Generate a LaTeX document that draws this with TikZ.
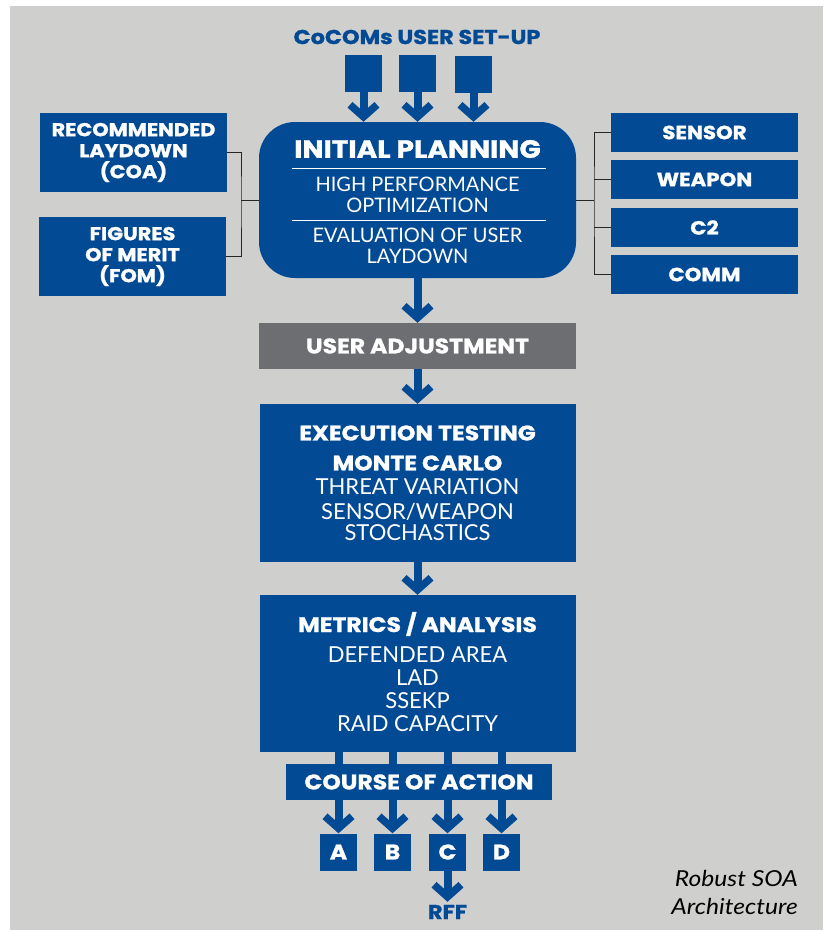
\documentclass[tikz,border=0pt]{standalone}
\usepackage{fontspec}
\setmainfont{Lato}
\newfontfamily\heavyfont{Poppins}[FakeStretch=1.12, FakeBold=1.2]
\newfontfamily\capfont{Lato}[FakeStretch=1.12]
\usetikzlibrary{arrows.meta}

\definecolor{socblue}{HTML}{034A94}
\definecolor{panel}{HTML}{CFCFCD}
\definecolor{adjgrey}{HTML}{6D6E71}

\tikzset{
  blk/.style={fill=socblue, inner sep=0pt, text=white, align=center},
  hd/.style={text=white, inner sep=1pt, align=center,
    font=\heavyfont\bfseries\fontsize{21}{24}\selectfont},
  txt/.style={text=white, inner sep=1pt, font=\fontsize{22}{24}\selectfont},
  flow/.style={draw=socblue, line width=8pt,
    -{Straight Barb[length=12pt, width=27pt, line width=7.5pt]}},
  tie/.style={draw=black!85, line width=1pt},
}

\begin{document}
\begin{tikzpicture}[x=1pt, y=-1pt]
  \useasboundingbox (0, 0) rectangle (827, 930);
  \fill[panel] (10, 6) rectangle (823, 930);

  % User set-up on top.
  \node[hd, text=socblue, font=\heavyfont\bfseries\fontsize{20}{24}\selectfont] (setup) at (417, 37) {CoCOMs USER SET-UP};
  \node[blk, minimum size=37pt] (in1) at (363.5, 73.5) {};
  \node[blk, minimum size=37pt] (in2) at (417.5, 73.5) {};
  \node[blk, minimum size=37pt] (in3) at (473.5, 74.5) {};

  % Initial planning.
  \node[blk, rounded corners=36pt, minimum width=317pt, minimum height=156pt] (plan) at (417.5, 200) {};
  \node[hd, font=\heavyfont\bfseries\fontsize{25}{28}\selectfont] (plantitle) at (417.5, 149) {INITIAL PLANNING};
  \draw[white, line width=0.8pt] (292, 168) -- (546, 168);
  \node[txt, font=\fontsize{20}{24}\selectfont] (hpo1) at (417.5, 184) {HIGH PERFORMANCE};
  \node[txt, font=\fontsize{20}{24}\selectfont] (hpo2) at (417.5, 205) {OPTIMIZATION};
  \draw[white, line width=0.8pt] (292, 220) -- (546, 220);
  \node[txt, font=\fontsize{20}{24}\selectfont] (eval1) at (417.5, 235) {EVALUATION OF USER};
  \node[txt, font=\fontsize{20}{24}\selectfont] (eval2) at (417.5, 256) {LAYDOWN};

  \foreach \n in {in1, in2, in3}
    \draw[flow] (\n.south) -- (\n.south |- plan.north);

  % Outputs on the left.
  \node[blk, minimum width=187pt, minimum height=79pt, font=\heavyfont\bfseries\fontsize{18.6}{21}\selectfont] (coa) at (133.5, 152.5) {RECOMMENDED\\LAYDOWN\\(COA)};
  \node[blk, minimum width=187pt, minimum height=79pt, font=\heavyfont\bfseries\fontsize{18.6}{21}\selectfont] (fom) at (132.5, 256.5) {FIGURES\\OF MERIT\\(FOM)};
  \coordinate (lj) at (241, 200);
  \draw[tie] (coa.east) -| (lj) |- (fom.east);
  \draw[tie] (lj) -- (plan.west);

  % Models on the right.
  \node[blk, minimum width=187pt, minimum height=39pt, font=\heavyfont\bfseries\fontsize{19}{21}\selectfont] (sensor) at (704.5, 132.5) {SENSOR};
  \node[blk, minimum width=187pt, minimum height=39pt, font=\heavyfont\bfseries\fontsize{19}{21}\selectfont] (weapon) at (704.5, 179.5) {WEAPON};
  \node[blk, minimum width=187pt, minimum height=39pt, font=\heavyfont\bfseries\fontsize{19}{21}\selectfont] (ctwo) at (704.5, 227.5) {C2};
  \node[blk, minimum width=187pt, minimum height=39pt, font=\heavyfont\bfseries\fontsize{19}{21}\selectfont] (comm) at (704.5, 274.5) {COMM};
  \coordinate (rj) at (594, 200);
  \draw[tie] (sensor.west) -| (rj) |- (comm.west);
  \draw[tie] (weapon.west) -- (weapon.west -| rj);
  \draw[tie] (ctwo.west) -- (ctwo.west -| rj);
  \draw[tie] (plan.east) -- (rj);

  % User adjustment.
  \node[blk, fill=adjgrey, minimum width=317pt, minimum height=46pt, font=\heavyfont\bfseries\fontsize{21}{24}\selectfont] (adjust) at (417.5, 346) {USER ADJUSTMENT};
  \draw[flow] (plan.south) -- (adjust.north);

  % Execution testing.
  \node[blk, minimum width=316pt, minimum height=158pt] (exec) at (417.5, 483) {};
  \node[hd] (exectitle) at (417.5, 433) {EXECUTION TESTING};
  \node[hd, font=\heavyfont\bfseries\fontsize{21}{24}\selectfont] (monte) at (417.5, 463) {MONTE CARLO};
  \node[txt] (threat) at (417.5, 487) {THREAT VARIATION};
  \node[txt] (stoch1) at (417.5, 512) {SENSOR/WEAPON};
  \node[txt] (stoch2) at (417.5, 533) {STOCHASTICS};
  \draw[flow] (adjust.south) -- (exec.north);

  % Metrics and analysis.
  \node[blk, minimum width=316pt, minimum height=157pt] (metrics) at (417.5, 673.5) {};
  \node[hd] (mettitle) at (417.5, 624) {METRICS / ANALYSIS};
  \node[txt] (darea) at (417.5, 655) {DEFENDED AREA};
  \node[txt] (lad) at (417.5, 678) {LAD};
  \node[txt] (ssekp) at (417.5, 701) {SSEKP};
  \node[txt] (raid) at (417.5, 724) {RAID CAPACITY};
  \draw[flow] (exec.south) -- (metrics.north);

  % Courses of action.
  \foreach \n/\x in {A/338.5, B/392.5, C/447.5, D/501.5} {
    \node[blk, minimum size=37pt, font=\heavyfont\bfseries\fontsize{21}{24}\selectfont] (\n) at (\x, 852) {\n};
    \draw[flow] (metrics.south -| \n.north) -- (\n.north);
  }
  \node[blk, minimum width=266pt, minimum height=36pt, font=\heavyfont\bfseries\fontsize{21}{24}\selectfont] (course) at (419, 782) {COURSE OF ACTION};

  \node[hd, text=socblue, font=\heavyfont\bfseries\fontsize{20}{24}\selectfont, inner sep=3pt] (rff) at (447.5, 912) {RFF};
  \draw[flow] (C.south) -- (rff.north);

  \node[anchor=east, align=right, inner sep=0pt, font=\capfont\itshape\fontsize{22}{28}\selectfont] (caption) at (798, 892) {Robust SOA\\Architecture};
\end{tikzpicture}
\end{document}
